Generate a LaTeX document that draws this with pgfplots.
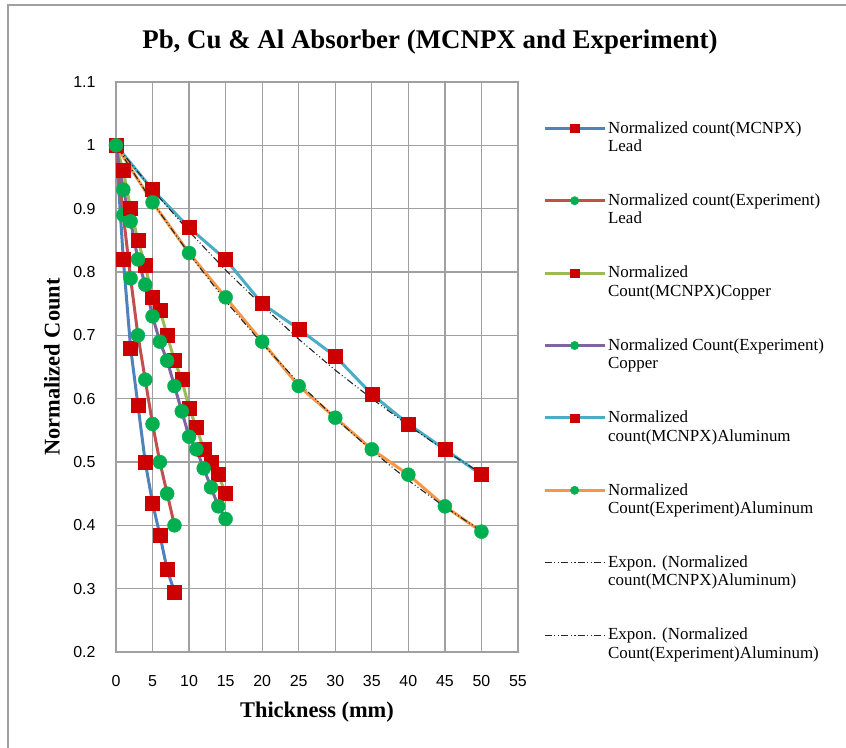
\documentclass[border=0pt]{standalone}
\usepackage{fontspec}
\setmainfont{Liberation Serif}
\newfontfamily\tickfont{Liberation Sans}
\usepackage{pgfplots}
\pgfplotsset{compat=1.18}

\definecolor{leadP}{RGB}{79,129,189}
\definecolor{leadE}{RGB}{192,80,77}
\definecolor{cuP}{RGB}{155,187,89}
\definecolor{cuE}{RGB}{128,100,162}
\definecolor{alP}{RGB}{75,172,198}
\definecolor{alE}{RGB}{247,150,70}
\definecolor{mkred}{RGB}{204,0,0}
\definecolor{mkgreen}{RGB}{0,176,80}
\definecolor{gridgray}{RGB}{160,160,160}

\pgfplotsset{
  mcnpx/.style={line width=3bp, mark=square*, mark size=7bp,
    mark options={fill=mkred, draw=mkred, line width=0.4bp}},
  expt/.style={line width=3bp, mark=*, mark size=7bp,
    mark options={fill=mkgreen, draw=mkgreen, line width=0.4bp}},
  trend/.style={black!85, line width=1.1bp, mark=none,
    dash pattern=on 7bp off 2.5bp on 1bp off 2.5bp on 1bp off 2.5bp},
}

\newcommand{\two}[2]{\begin{tabular}[t]{@{}l@{}}#1\\#2\end{tabular}}

\begin{document}
\begin{tikzpicture}
\useasboundingbox (-116bp,-96bp) rectangle (730bp,652bp);
\draw[gridgray, line width=1.3bp] (-108bp,-96bp) -- (-108bp,647bp) -- (730bp,647bp);
\node[font=\bfseries\fontsize{27}{31}\selectfont] at (314bp,610bp)
  {Pb, Cu \& Al Absorber (MCNPX and Experiment)};

\begin{axis}[
  scale only axis, width=402bp, height=570bp,
  xmin=0, xmax=55, ymin=0.2, ymax=1.1,
  xtick={0,5,10,15,20,25,30,35,40,45,50,55},
  ytick={0.2,0.3,0.4,0.5,0.6,0.7,0.8,0.9,1,1.1},
  /pgf/number format/.cd, fixed, precision=1, assume math mode=true,
  /pgfplots/.cd,
  tick label style={font=\tickfont\fontsize{16}{19}\selectfont},
  xticklabel style={yshift=-20bp},
  yticklabel style={xshift=-17bp},
  major tick length=0pt,
  grid=major,
  major grid style={gridgray, line width=1.3bp},
  axis line style={gridgray, line width=1.3bp},
  xlabel={Thickness (mm)},
  ylabel={Normalized Count},
  label style={font=\bfseries\fontsize{22.5}{26}\selectfont},
  xlabel style={at={(axis description cs:0.5,-0.105)}, anchor=center},
  ylabel style={at={(axis description cs:-0.159,0.5)}, anchor=center},
  legend cell align=left,
  legend style={at={(1.062,0.937)}, anchor=north west, draw=none, fill=none,
    inner sep=0pt, row sep=54bp,
    font=\fontsize{17}{18.5}\selectfont,
    nodes={inner sep=2bp}},
  legend image code/.code={\draw[mark repeat=2, mark phase=2, #1,
      every mark/.append style={scale=0.6}]
      plot coordinates {(0bp,0bp) (30bp,0bp) (60bp,0bp)};},
  legend image post style={yshift=-1bp},
]
\addplot[leadP, mcnpx] coordinates {
  (0,1) (1,0.82) (2,0.68) (3,0.59) (4,0.50) (5,0.435) (6,0.385) (7,0.33) (8,0.295)};
\addlegendentry{\two{Normalized count(MCNPX)}{Lead}}
\addplot[leadE, expt] coordinates {
  (0,1) (1,0.89) (2,0.79) (3,0.70) (4,0.63) (5,0.56) (6,0.50) (7,0.45) (8,0.40)};
\addlegendentry{\two{Normalized count(Experiment)}{Lead}}
\addplot[cuP, mcnpx] coordinates {
  (0,1) (1,0.96) (2,0.90) (3,0.85) (4,0.81) (5,0.76) (6,0.74) (7,0.70)
  (8,0.66) (9,0.63) (10,0.585) (11,0.555) (12,0.52) (13,0.50) (14,0.48) (15,0.45)};
\addlegendentry{\two{Normalized}{Count(MCNPX)Copper}}
\addplot[cuE, expt] coordinates {
  (0,1) (1,0.93) (2,0.88) (3,0.82) (4,0.78) (5,0.73) (6,0.69) (7,0.66)
  (8,0.62) (9,0.58) (10,0.54) (11,0.52) (12,0.49) (13,0.46) (14,0.43) (15,0.41)};
\addlegendentry{\two{Normalized Count(Experiment)}{Copper}}
\addplot[alP, mcnpx] coordinates {
  (0,1) (5,0.93) (10,0.87) (15,0.82) (20,0.75) (25,0.71) (30,0.667)
  (35,0.607) (40,0.56) (45,0.52) (50,0.48)};
\addlegendentry{\two{Normalized}{count(MCNPX)Aluminum}}
\addplot[alE, expt] coordinates {
  (0,1) (5,0.91) (10,0.83) (15,0.76) (20,0.69) (25,0.62) (30,0.57)
  (35,0.52) (40,0.48) (45,0.43) (50,0.39)};
\addlegendentry{\two{Normalized}{Count(Experiment)Aluminum}}
\addplot[trend] coordinates {
  (0,1) (5,0.930) (10,0.864) (15,0.803) (20,0.747) (25,0.694) (30,0.645)
  (35,0.600) (40,0.558) (45,0.518) (50,0.482)};
\addlegendentry{\two{Expon. (Normalized}{count(MCNPX)Aluminum)}}
\addplot[trend] coordinates {
  (0,1) (5,0.910) (10,0.829) (15,0.754) (20,0.687) (25,0.625) (30,0.569)
  (35,0.518) (40,0.471) (45,0.429) (50,0.391)};
\addlegendentry{\two{Expon. (Normalized}{Count(Experiment)Aluminum)}}
\end{axis}
\end{tikzpicture}
\end{document}
